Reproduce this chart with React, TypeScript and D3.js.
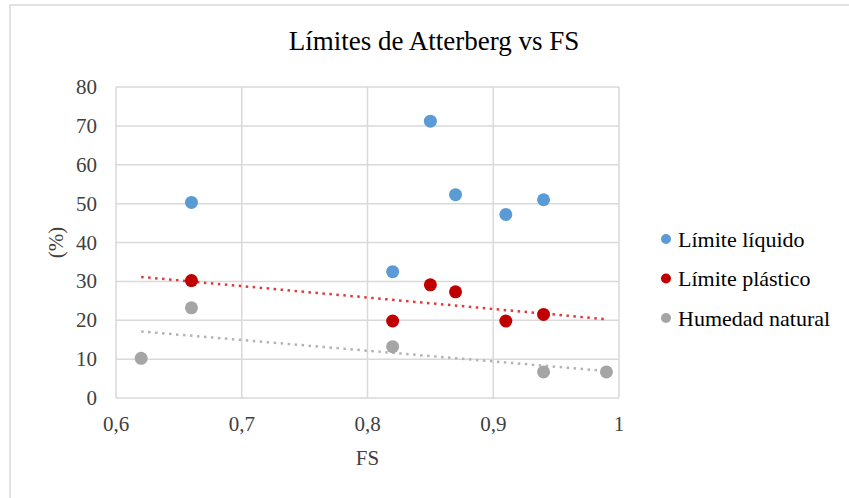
import React from "react";
import * as d3 from "d3";

// FS values and percentages
const liquidoFS = [0.66, 0.82, 0.85, 0.87, 0.91, 0.94];
const liquidoVal = [50.3, 32.5, 71.2, 52.3, 47.2, 51.0];

const plasticoFS = [0.66, 0.82, 0.85, 0.87, 0.91, 0.94];
const plasticoVal = [30.2, 19.8, 29.1, 27.3, 19.8, 21.5];

const humedadFS = [0.62, 0.66, 0.82, 0.94, 0.99];
const humedadVal = [10.2, 23.2, 13.2, 6.7, 6.7];

const xTicks = [0.6, 0.7, 0.8, 0.9, 1];
const yTicks = [0, 10, 20, 30, 40, 50, 60, 70, 80];

const seriesNames = ["Límite líquido", "Límite plástico", "Humedad natural"];
const colors = ["#5b9bd5", "#c00000", "#a5a5a5"];
const trendColors = ["", "#e0393a", "#b4b4b4"];

const W = 849;
const H = 498;
const margin = { top: 87, right: 230, bottom: 100, left: 116 };
const FONT = "'Liberation Serif', 'Times New Roman', serif";

// least squares fit, like an Excel linear trendline
function fit(xs: number[], ys: number[]) {
  const mx = d3.mean(xs) as number;
  const my = d3.mean(ys) as number;
  let sxy = 0;
  let sxx = 0;
  xs.forEach((x, i) => {
    sxy += (x - mx) * (ys[i] - my);
    sxx += (x - mx) * (x - mx);
  });
  const b = sxy / sxx;
  return (x: number) => my + b * (x - mx);
}

export default function App() {
  const x = d3
    .scaleLinear()
    .domain([0.6, 1])
    .range([margin.left, W - margin.right]);
  const y = d3
    .scaleLinear()
    .domain([0, 80])
    .range([H - margin.bottom, margin.top]);

  const series = [
    { xs: liquidoFS, ys: liquidoVal },
    { xs: plasticoFS, ys: plasticoVal },
    { xs: humedadFS, ys: humedadVal },
  ];

  const allX = [...liquidoFS, ...plasticoFS, ...humedadFS];
  const [x0, x1] = d3.extent(allX) as [number, number];

  const fmt = (v: number) => String(v).replace(".", ",");

  return (
    <svg
      width={W}
      height={H}
      style={{ position: "absolute", left: 0, top: 0, background: "#fff" }}
    >
      <rect x={10} y={5} width={W} height={H} fill="#fff" stroke="#d9d9d9" strokeWidth={1.5} />

      <text x={434} y={50} textAnchor="middle" fontFamily={FONT} fontSize={27} fill="#000">
        Límites de Atterberg vs FS
      </text>

      {/* grid */}
      {xTicks.map((t) => (
        <line key={"gx" + t} x1={x(t)} x2={x(t)} y1={y(0)} y2={y(80)} stroke="#d9d9d9" strokeWidth={1.5} />
      ))}
      {yTicks.map((t) => (
        <line key={"gy" + t} x1={x(0.6)} x2={x(1)} y1={y(t)} y2={y(t)} stroke="#d9d9d9" strokeWidth={1.5} />
      ))}

      {/* tick labels */}
      {xTicks.map((t) => (
        <text key={"tx" + t} x={x(t)} y={y(0) + 33} textAnchor="middle" fontFamily={FONT} fontSize={21} fill="#404040">
          {fmt(t)}
        </text>
      ))}
      {yTicks.map((t) => (
        <text key={"ty" + t} x={x(0.6) - 19} y={y(t) + 7} textAnchor="end" fontFamily={FONT} fontSize={21} fill="#404040">
          {t}
        </text>
      ))}

      <text x={(x(0.6) + x(1)) / 2} y={465} textAnchor="middle" fontFamily={FONT} fontSize={21} fill="#404040">
        FS
      </text>
      <text
        transform={`translate(63,${(y(0) + y(80)) / 2}) rotate(-90)`}
        textAnchor="middle"
        fontFamily={FONT}
        fontSize={21}
        fill="#404040"
      >
        (%)
      </text>

      {/* trendlines */}
      {series.map((s, i) => {
        if (i === 0) return null;
        const f = fit(s.xs, s.ys);
        return (
          <path
            key={"tr" + i}
            d={
              d3
                .line<number>()
                .x((d) => x(d))
                .y((d) => y(f(d)))([x0, x1]) as string
            }
            fill="none"
            stroke={trendColors[i]}
            strokeWidth={2.5}
            strokeDasharray="2.5,4.5"
          />
        );
      })}

      {/* points */}
      {series.map((s, i) =>
        s.xs.map((fs, j) => (
          <circle key={`p${i}-${j}`} cx={x(fs)} cy={y(s.ys[j])} r={6.5} fill={colors[i]} />
        ))
      )}

      {/* legend */}
      {seriesNames.map((n, i) => (
        <g key={n} transform={`translate(666,${239 + i * 39.5})`}>
          <circle cx={0} cy={0} r={5} fill={colors[i]} />
          <text x={12} y={7.5} fontFamily={FONT} fontSize={22} fill="#000">
            {n}
          </text>
        </g>
      ))}
    </svg>
  );
}
